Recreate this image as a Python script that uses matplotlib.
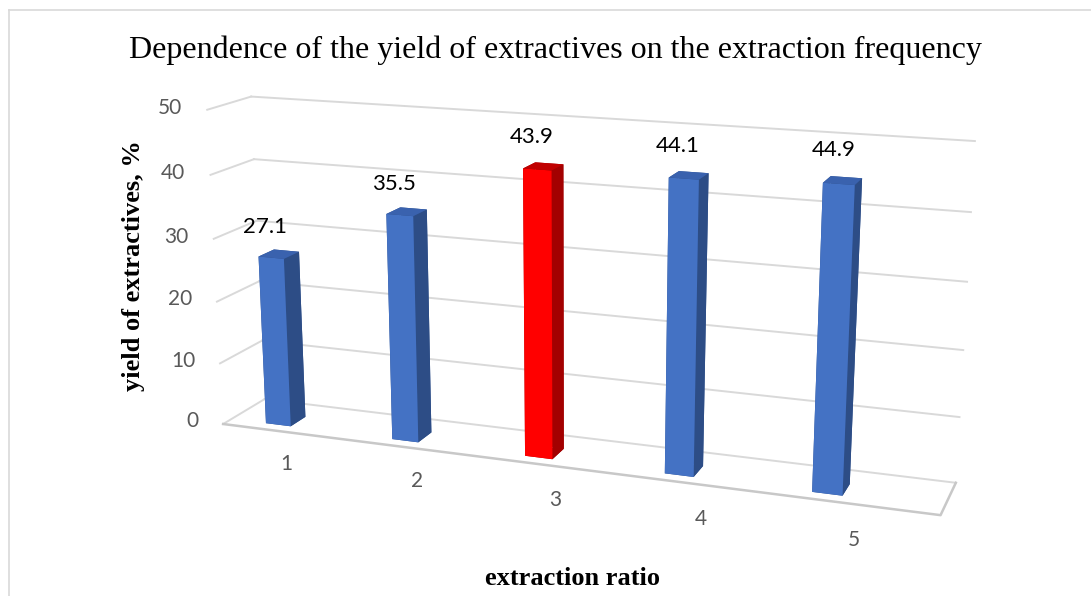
import numpy as np
import matplotlib
matplotlib.use("Agg")
import matplotlib.pyplot as plt
from mpl_toolkits.mplot3d import proj3d

# data
categories = ["1", "2", "3", "4", "5"]
values = [27.1, 35.5, 43.9, 44.1, 44.9]
highlight = [False, False, True, False, False]
z_ticks = [0, 10, 20, 30, 40, 50]

title = "Dependence of the yield of extractives on the extraction frequency"
xlabel = "extraction ratio"
ylabel = "yield of extractives, %"

# face order of bar3d: bottom, top, front, back, left, right
blue_faces = ["#2F528F", "#3A62AE", "#4472C4", "#2F528F", "#2F528F", "#2D4D86"]
red_faces = ["#A00000", "#C00000", "#FF0000", "#A00000", "#A00000", "#A30000"]

W, H = 1091, 596
fig = plt.figure(figsize=(W / 100, H / 100), dpi=100)
side = W / H
ax = fig.add_axes([0.012, 0.5 - side / 2 - 0.015, 1.0, side], projection="3d")
ax.set_proj_type("persp", focal_length=0.32)
ax.view_init(elev=15, azim=-70, roll=0)
ax.set_box_aspect((5.07, 0.6, 2.25), zoom=0.7475)
ax.set_axis_off()
ax.computed_zorder = False

# floor / wall extent (Excel leaves more room right of the last column)
x0, x1 = 0.62, 5.75
y0, y1 = 0.0, 0.6
ax.set_xlim(x0, x1)
ax.set_ylim(y0, y1)
ax.set_zlim(0, 50)

grid_c = "#D9D9D9"
# back wall and left wall gridlines
for z in z_ticks:
    ax.plot([x0, x1], [y1, y1], [z, z], color=grid_c, lw=1.4, zorder=1)
    ax.plot([x0, x0], [y0, y1], [z, z], color=grid_c, lw=1.4, zorder=1)
# floor outline
ax.plot([x0, x1, x1], [y0, y0, y1], [0, 0, 0], color="#C8C8C8", lw=1.8, zorder=1)

# bars
w, d = 0.2, 0.22
yb = 0.12
xs = np.arange(1, len(categories) + 1)
for xi, v, hl in zip(xs, values, highlight):
    cols = red_faces if hl else blue_faces
    ax.bar3d(xi - w / 2, yb, 0, w, d, v, color=cols, shade=False,
             edgecolor="none", zorder=2)

# labels: project 3D anchor points to figure pixels
fig.canvas.draw()
M = ax.get_proj()


def to_fig(x, y, z):
    px, py, _ = proj3d.proj_transform(x, y, z, M)
    X, Y = ax.transData.transform((px, py))
    return X / W, Y / H


for z in z_ticks:
    fx, fy = to_fig(x0 - 0.2, y0, z)
    fig.text(fx, fy, str(z), color="#595959", fontsize=15, family="Lato",
             ha="right", va="center")
for xi, v in zip(xs, values):
    fx, fy = to_fig(xi - 0.04, yb, v + 3.2)
    fig.text(fx, fy, f"{v}", color="black", fontsize=16, family="Lato",
             ha="center", va="bottom")
    fx, fy = to_fig(xi + 0.26, y0 - 0.25, -3)
    fig.text(fx, fy, categories[xi - 1], color="#595959", fontsize=15,
             family="Lato", ha="center", va="center")

fig.text(0.509, 0.915, title, family="Liberation Serif", fontsize=23,
         ha="center", va="center")
fig.text(0.525, 0.03, xlabel, family="Liberation Serif", fontsize=19,
         weight="bold", ha="center", va="center")
fig.text(0.122, 0.555, ylabel, family="Liberation Serif", fontsize=19,
         weight="bold", ha="center", va="center", rotation=90)

# outer frame of the chart area
fig.add_artist(plt.Line2D([0.008, 0.008], [0.0, 0.983], color="#D9D9D9", lw=1.2))
fig.add_artist(plt.Line2D([0.008, 1.0], [0.983, 0.983], color="#D9D9D9", lw=1.2))

fig.savefig("out.png", dpi=100)
